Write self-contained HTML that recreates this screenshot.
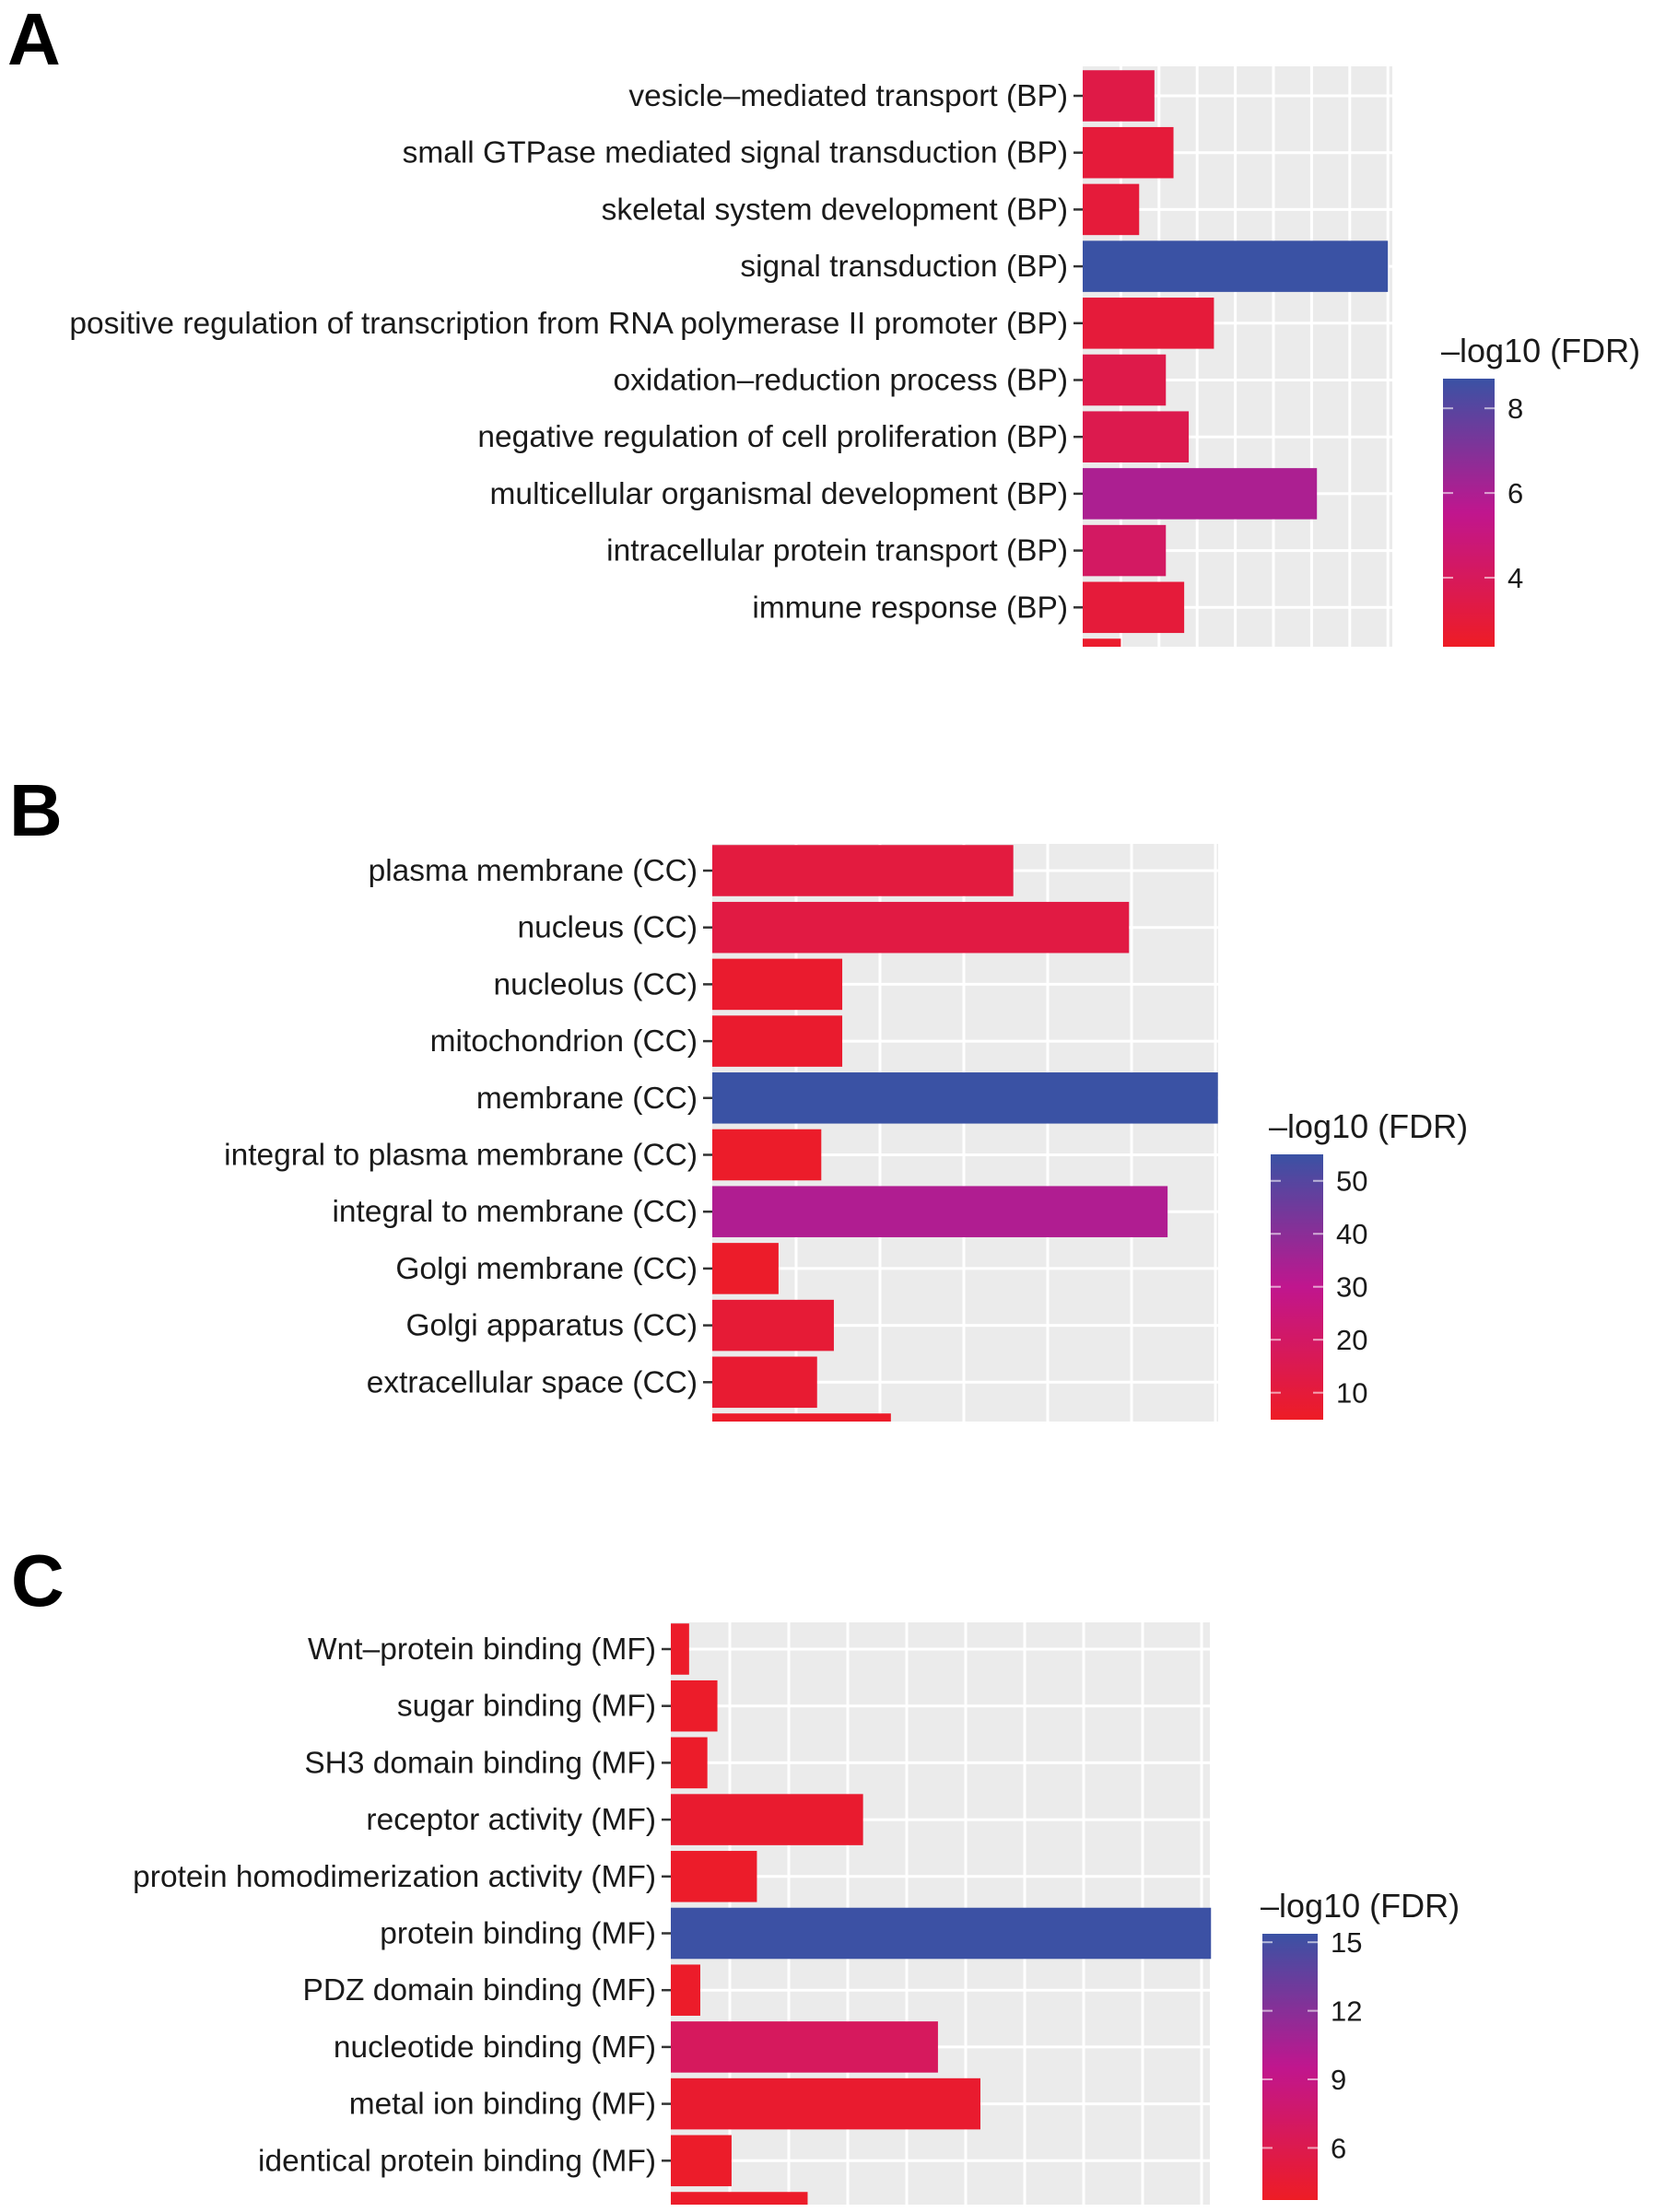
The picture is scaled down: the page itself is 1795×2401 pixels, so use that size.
<!DOCTYPE html>
<html><head><meta charset="utf-8"><style>
html,body{margin:0;padding:0;background:#fff;}
svg{display:block;font-family:"Liberation Sans",sans-serif;}
</style></head><body>
<svg id="fig" width="1795" height="2401" viewBox="0 0 1795 2401">
<defs>
<linearGradient id="gradLeg" x1="0" y1="1" x2="0" y2="0">
<stop offset="0" stop-color="#ee1c25"/><stop offset="0.5" stop-color="#c0168e"/><stop offset="1" stop-color="#3a52a4"/>
</linearGradient>
</defs>
<text x="8" y="70" font-size="80" font-weight="bold" fill="#000">A</text>
<text x="10" y="907" font-size="80" font-weight="bold" fill="#000">B</text>
<text x="12" y="1743" font-size="80" font-weight="bold" fill="#000">C</text>
</svg>
<script>
// Panel A (BP)
const catsA = ["vesicle\u2013mediated transport (BP)","small GTPase mediated signal transduction (BP)","skeletal system development (BP)","signal transduction (BP)","positive regulation of transcription from RNA polymerase II promoter (BP)","oxidation\u2013reduction process (BP)","negative regulation of cell proliferation (BP)","multicellular organismal development (BP)","intracellular protein transport (BP)","immune response (BP)",""];
const countsA = [9.4, 11.9, 7.4, 40, 17.2, 10.9, 13.9, 30.7, 10.9, 13.3, 5];
const fdrA = [3.4, 3.0, 3.0, 8.7, 3.0, 3.5, 3.6, 6.0, 4.2, 3.0, 2.6];
const ticksA = [4, 6, 8];
// Panel B (CC)
const catsB = ["plasma membrane (CC)","nucleus (CC)","nucleolus (CC)","mitochondrion (CC)","membrane (CC)","integral to plasma membrane (CC)","integral to membrane (CC)","Golgi membrane (CC)","Golgi apparatus (CC)","extracellular space (CC)",""];
const countsB = [35.9, 49.7, 15.5, 15.5, 60.3, 13, 54.3, 7.9, 14.5, 12.5, 21.3];
const fdrB = [11, 12, 7, 7, 55, 6, 33, 6, 9, 8, 6];
const ticksB = [10, 20, 30, 40, 50];
// Panel C (MF)
const catsC = ["Wnt\u2013protein binding (MF)","sugar binding (MF)","SH3 domain binding (MF)","receptor activity (MF)","protein homodimerization activity (MF)","protein binding (MF)","PDZ domain binding (MF)","nucleotide binding (MF)","metal ion binding (MF)","identical protein binding (MF)",""];
const countsC = [3.1, 7.9, 6.2, 32.6, 14.6, 91.6, 5, 45.3, 52.5, 10.3, 23.2];
const fdrC = [4, 4, 4, 4.3, 4, 15.3, 4, 6.8, 4.3, 4, 4];
const ticksC = [6, 9, 12, 15];

const NS = "http://www.w3.org/2000/svg";
const svg = document.getElementById("fig");
function mk(tag, attrs, parent){const e=document.createElementNS(NS,tag);for(const k in attrs)e.setAttribute(k,attrs[k]);(parent||svg).appendChild(e);return e;}
function hex(c){return [parseInt(c.slice(1,3),16),parseInt(c.slice(3,5),16),parseInt(c.slice(5,7),16)];}
const stops=[hex("#ee1c25"),hex("#c0168e"),hex("#3a52a4")];
function colorFor(t){t=Math.max(0,Math.min(1,t));let a,b,u;if(t<0.5){a=stops[0];b=stops[1];u=t/0.5;}else{a=stops[1];b=stops[2];u=(t-0.5)/0.5;}
 const c=a.map((v,i)=>Math.round(v+(b[i]-v)*u));return "rgb("+c.join(",")+")";}

function panel(p, cats, counts, fdr, ticks){
 const g=mk("g",{});
 
 
 const bg=mk("rect",{x:p.x0,y:p.y0,width:p.x1-p.x0,height:p.y1-p.y0,fill:"#ebebeb"},g);
 
 
 const xs=v=>p.x0+v*p.pxPerUnit;
 const ys=i=>p.yc0+i*p.step;
 for(let k=p.gridStep;xs(k)<=p.x1+1;k+=p.gridStep){
  const l=mk("line",{x1:xs(k),x2:xs(k),y1:p.y0,y2:p.y1,stroke:"#fff","stroke-width":3},g);
  
  
 }
 const lo=p.legMin, hi=p.legMax;
 cats.forEach((c,i)=>{
  const yc=ys(i);
  if(yc<p.y1){
   const gl=mk("line",{x1:p.x0,x2:p.x1,y1:yc,y2:yc,stroke:"#fff","stroke-width":3},g);
   
   
  }
  const top=yc-p.step*0.45, bot=Math.min(yc+p.step*0.45,p.y1);
  const r=mk("rect",{x:p.x0,y:top,width:xs(counts[i])-p.x0,height:Math.max(0,bot-top),fill:colorFor((fdr[i]-lo)/(hi-lo))},g);
  
  
  if(c){
   const tk=mk("line",{x1:p.x0-10,x2:p.x0,y1:yc,y2:yc,stroke:"#333","stroke-width":2.5},g);
   
   
   const t=mk("text",{x:p.x0-16,y:yc+11,"text-anchor":"end","font-size":33.5,fill:"#1a1a1a"},g);
   t.textContent=c;
   
   
  }
 });
 const L=p.leg;
 const lt=mk("text",{x:L.x-2,y:L.top-18,"font-size":36,fill:"#1a1a1a"},g);
 lt.textContent="\u2013log10 (FDR)";
 
 
 const lb=mk("rect",{x:L.x,y:L.top,width:L.w,height:L.bot-L.top,fill:"url(#gradLeg)"},g);
 
 
 const ly=v=>L.bot-(v-lo)/(hi-lo)*(L.bot-L.top);
 ticks.forEach(v=>{
  const y=ly(v);
  const a=mk("line",{x1:L.x,x2:L.x+11,y1:y,y2:y,stroke:"#fff","stroke-opacity":0.6,"stroke-width":2},g);
  
  
  const b=mk("line",{x1:L.x+L.w-11,x2:L.x+L.w,y1:y,y2:y,stroke:"#fff","stroke-opacity":0.6,"stroke-width":2},g);
  
  
  const t=mk("text",{x:L.x+L.w+14,y:y+11,"font-size":31,fill:"#1a1a1a"},g);
  t.textContent=String(v);
  
  
 });
}

panel({name:"bp",x0:1175,x1:1511,y0:72,y1:702,yc0:104,step:61.7,pxPerUnit:8.28,gridStep:5,legMin:2.37,legMax:8.7,
 leg:{x:1566,w:56,top:411,bot:702}}, catsA, countsA, fdrA, ticksA);
panel({name:"cc",x0:773,x1:1322,y0:916,y1:1543,yc0:945,step:61.7,pxPerUnit:9.1,gridStep:10,legMin:4.9,legMax:55,
 leg:{x:1379,w:57,top:1253,bot:1541}}, catsB, countsB, fdrB, ticksB);
panel({name:"mf",x0:728,x1:1313,y0:1761,y1:2393,yc0:1790,step:61.7,pxPerUnit:6.4,gridStep:10,legMin:3.72,legMax:15.37,
 leg:{x:1370,w:60,top:2099,bot:2388}}, catsC, countsC, fdrC, ticksC);
</script>
</body></html>
